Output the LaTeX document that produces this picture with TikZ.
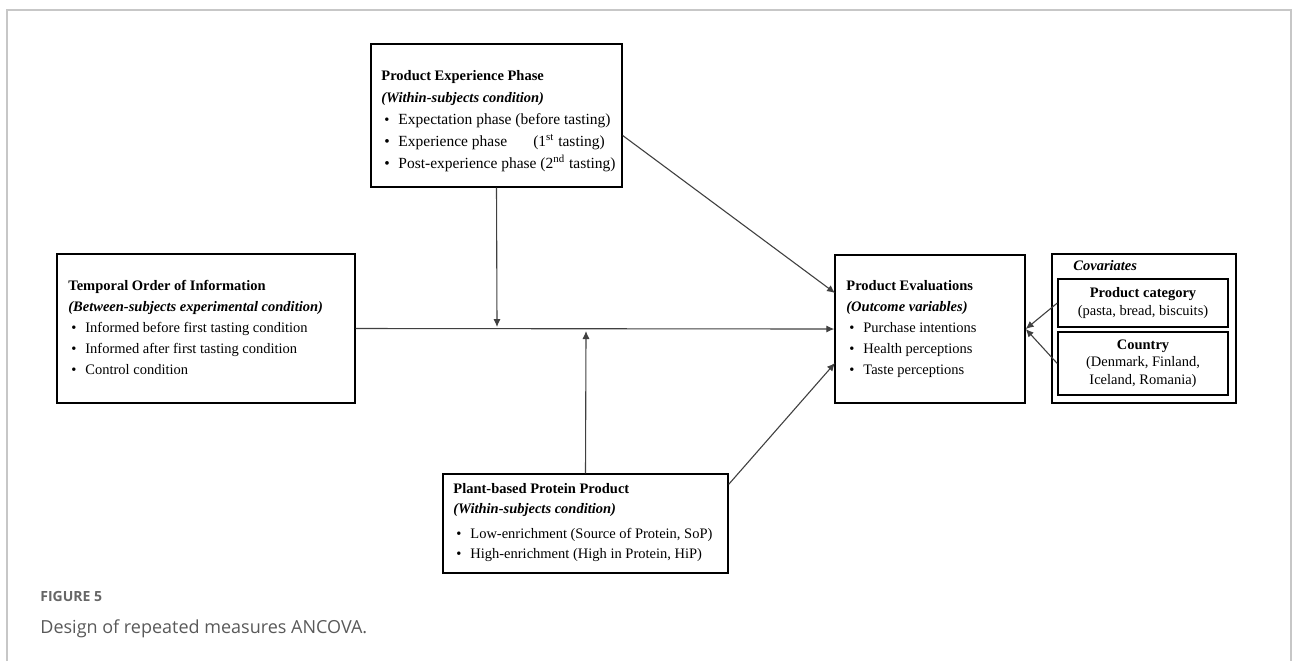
\documentclass[tikz,border=0pt]{standalone}
\usepackage{fontspec}
\setmainfont{Liberation Serif}
\newfontfamily\capfont{Open Sans}
\usetikzlibrary{arrows.meta,fit}
\newcommand\bodyf{\fontsize{7.25}{10.5}\selectfont}
\newcommand\bitem[1]{\hspace*{1.5pt}\makebox[7pt][l]{\textbullet}#1}
\begin{document}
\begin{tikzpicture}[x=0.5pt,y=-0.5pt,
  box/.style={draw=black, line width=0.7pt, inner sep=0pt},
  txt/.style={anchor=base west, inner sep=0pt},
  arr/.style={draw=black!75, line width=0.55pt, -{Latex[length=4pt,width=3.6pt]}},
  ctr/.style={align=center, inner sep=0pt, font={\fontsize{7.25}{8.75}\selectfont}},
]
\useasboundingbox (0,0) rectangle (1293,661);
\draw[black!22, line width=1pt] (7,661) -- (7,10) -- (1291,10) -- (1291,661);

% boxes
\node[box, fit={(371,44) (622,187)}] (pep) {};
\node[txt] (peptxt) at (381,80) {\parbox[t]{125pt}{\fontsize{7.25}{11}\selectfont
  \textbf{Product Experience Phase}\\
  \textbf{\textit{(Within-subjects condition)}}\\
  \bitem{\fontsize{7.75}{11}\selectfont Expectation phase (before tasting)}\\
  \bitem{\fontsize{7.75}{11}\selectfont Experience phase\hspace{13pt}(1\textsuperscript{st} tasting)}\\
  \bitem{\fontsize{7.75}{11}\selectfont Post-experience phase (2\textsuperscript{nd} tasting)}}};

\node[box, fit={(57,254) (355,403)}] (tem) {};
\node[txt] (temtxt) at (68,290) {\parbox[t]{140pt}{\bodyf
  \textbf{Temporal Order of Information}\\
  \textbf{\textit{(Between-subjects experimental condition)}}\\
  \bitem{Informed before first tasting condition}\\
  \bitem{Informed after first tasting condition}\\
  \bitem{Control condition}}};

\node[box, fit={(443,474) (728,573)}] (plant) {};
\node[txt] (planttxt) at (453,493) {\parbox[t]{138pt}{\fontsize{7.25}{10}\selectfont
  \textbf{Plant-based Protein Product}\\
  \textbf{\textit{(Within-subjects condition)}}\\[2.5pt]
  \bitem{Low-enrichment (Source of Protein, SoP)}\\
  \bitem{High-enrichment (High in Protein, HiP)}}};

\node[box, fit={(835,255) (1025,403)}] (pe) {};
\node[txt] (petxt) at (846,290) {\parbox[t]{90pt}{\bodyf
  \textbf{Product Evaluations}\\
  \textbf{\textit{(Outcome variables)}}\\
  \bitem{Purchase intentions}\\
  \bitem{Health perceptions}\\
  \bitem{Taste perceptions}}};

\node[box, fit={(1052,254) (1236,403)}] (cov) {};
\node[txt] (covtxt) at (1073,270) {\bodyf\textbf{\textit{Covariates}}};
\node[box, fit={(1058,279) (1228,327)}] (cat) {};
\node[ctr] (cattxt) at (cat.center) {\textbf{Product category}\\(pasta, bread, biscuits)};
\node[box, fit={(1058,332) (1228,395)}] (cty) {};
\node[ctr] (ctytxt) at (cty.center) {\textbf{Country}\\(Denmark, Finland,\\Iceland, Romania)};

% connectors
\coordinate (j1) at (497,327);
\coordinate (j2) at (586,331);
\coordinate (pein1) at (835,293);
\coordinate (pein3) at (835,363);
\draw[arr] (tem.east) -- (pe.west);
\draw[arr] (pep.south) -- (j1);
\draw[arr] (plant.north) -- (j2);
\draw[arr] ([yshift=-10pt]pep.east) -- (pein1);
\draw[arr] ([yshift=-5.5pt]plant.north east) -- (pein3);
\draw[arr] (cat.west) -- (pe.east);
\draw[arr] (cty.west) -- (pe.east);

% caption
\node[anchor=base west, inner sep=0pt, font=\capfont\bfseries\fontsize{7}{8}\selectfont, text=black!60] (figlabel) at (40,601) {FIGURE 5};
\node[anchor=base west, inner sep=0pt, font=\capfont\fontsize{9}{10}\selectfont, text=black!65] (caption) at (40,633) {Design of repeated measures ANCOVA.};
\end{tikzpicture}
\end{document}
